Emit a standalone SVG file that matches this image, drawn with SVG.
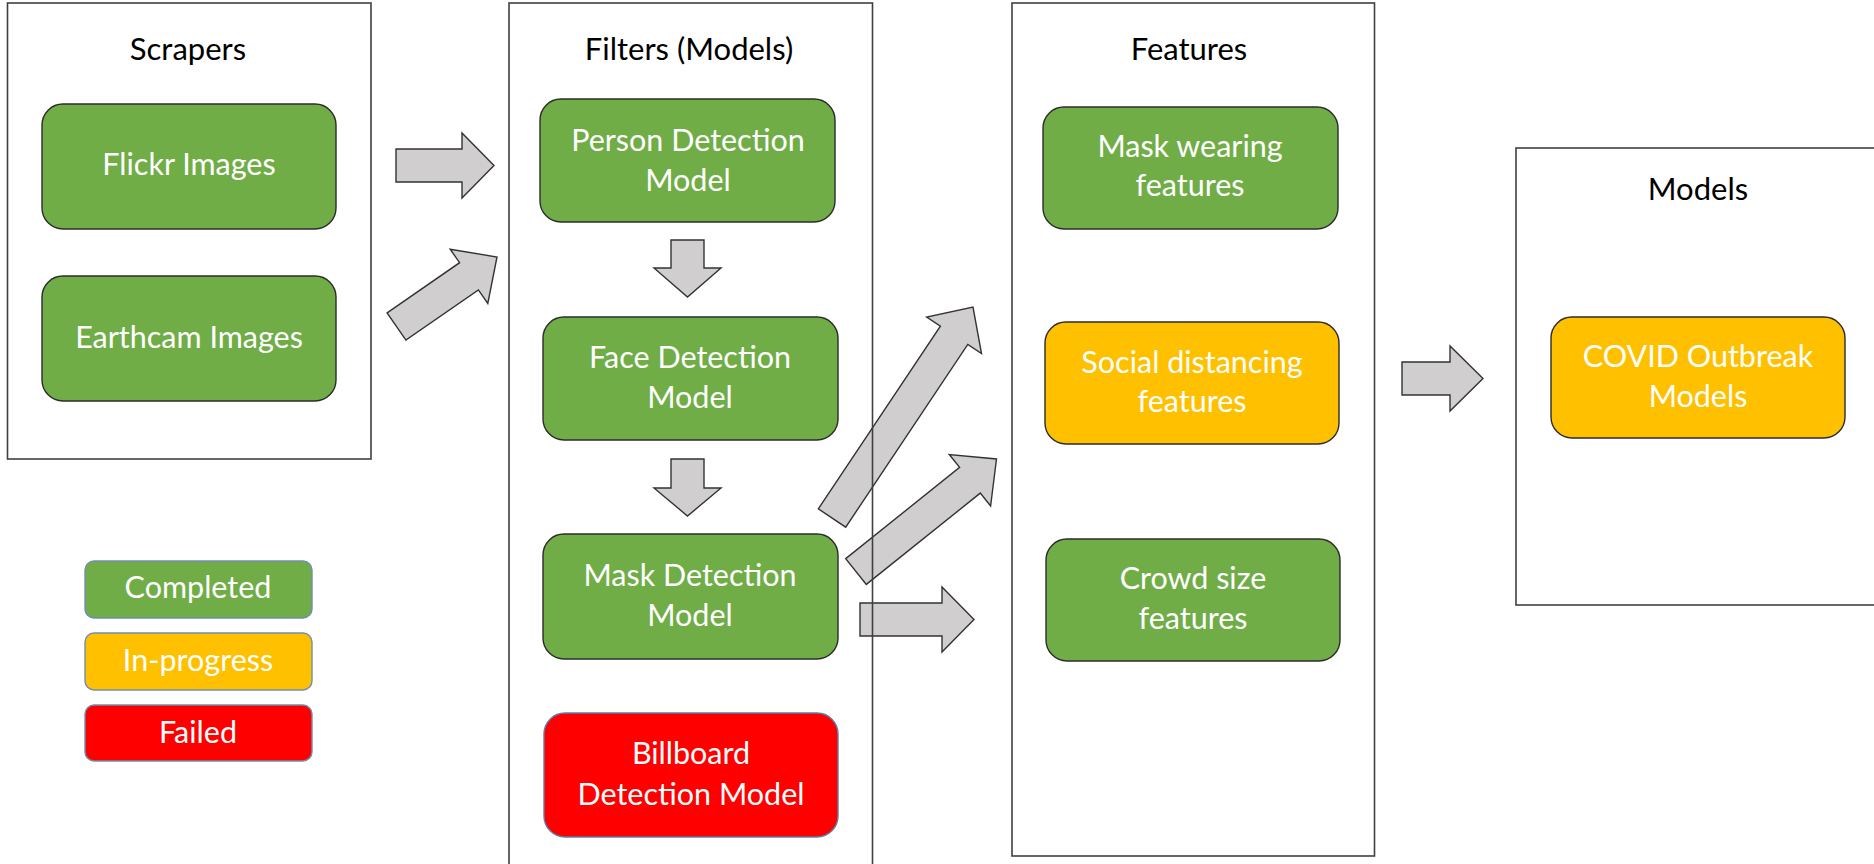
<svg xmlns="http://www.w3.org/2000/svg" width="1874" height="864" viewBox="0 0 1874 864">
  <style>
    .panel { fill: none; stroke: #404040; stroke-width: 1.6; }
    .node { stroke: #2b2b2b; stroke-width: 1.4; }
    .done { fill: #70AD47; }
    .wip { fill: #FFC000; }
    .fail { fill: #FF0000; stroke: #5a7fa8; }
    .key { stroke: #6f8fb0; stroke-width: 1.4; }
    .title { font-family: Lato, "Liberation Sans", sans-serif; font-size: 31px; fill: #000; text-anchor: middle; }
    .label { font-family: Lato, "Liberation Sans", sans-serif; font-size: 30.5px; fill: #fff; text-anchor: middle; }
    .arrow { fill: #D0CECE; stroke: #333; stroke-width: 1.4; stroke-linejoin: miter; }
  </style>

  <rect x="0" y="0" width="1874" height="864" fill="#fff"/>

  <!-- block arrows between stages -->
  <g id="connectors">
    <polygon class="arrow" points="396,149 462,149 462,133 494,165.5 462,198 462,182 396,182"/>
    <polygon class="arrow" points="387.1,312.9 459.6,262.7 450.2,249.2 497,257 487.8,303.4 478.4,289.9 405.9,340.1"/>
    <polygon class="arrow" points="671,240 704,240 704,268 721,268 687.5,297 654,268 671,268"/>
    <polygon class="arrow" points="671,459 704,459 704,488 721,488 687.5,516 654,488 671,488"/>
    <polygon class="arrow" points="818.3,508.8 940.4,326.1 926.7,317 973,307 981.5,353.6 967.8,344.4 845.7,527.2"/>
    <polygon class="arrow" points="845.7,558.6 959.6,467.4 949.3,454.5 996.5,459 990.6,506 980.3,493.1 866.3,584.4"/>
    <polygon class="arrow" points="860,603 942,603 942,587 974,619.5 942,652 942,636 860,636"/>
    <polygon class="arrow" points="1402,362 1450,362 1450,346 1483,378.5 1450,411 1450,395 1402,395"/>
  </g>

  <!-- stage panels -->
  <g id="scrapers">
    <rect class="panel" x="7.5" y="3" width="363.5" height="456"/>
    <text class="title" x="188" y="60">Scrapers</text>
  </g>
  <g id="filters">
    <rect class="panel" x="509" y="3" width="363.5" height="880"/>
    <text class="title" x="689" y="60">Filters (Models)</text>
  </g>
  <g id="features">
    <rect class="panel" x="1012" y="3" width="362.5" height="853"/>
    <text class="title" x="1189" y="60">Features</text>
  </g>
  <g id="models">
    <rect class="panel" x="1516" y="148" width="380" height="457"/>
    <text class="title" x="1698" y="200">Models</text>
  </g>

  <!-- scrapers -->
  <g id="flickr-images">
    <rect class="node done" x="42" y="104" width="294" height="125" rx="21"/>
    <text class="label" x="189" y="175">Flickr Images</text>
  </g>
  <g id="earthcam-images">
    <rect class="node done" x="42" y="276" width="294" height="125" rx="21"/>
    <text class="label" x="189" y="348">Earthcam Images</text>
  </g>

  <!-- filters -->
  <g id="person-detection">
    <rect class="node done" x="540" y="99" width="295" height="123" rx="21"/>
    <text class="label" x="688" y="151">Person Detection</text>
    <text class="label" x="688" y="191">Model</text>
  </g>
  <g id="face-detection">
    <rect class="node done" x="543" y="317" width="295" height="123" rx="21"/>
    <text class="label" x="690" y="368">Face Detection</text>
    <text class="label" x="690" y="408">Model</text>
  </g>
  <g id="mask-detection">
    <rect class="node done" x="543" y="534" width="295" height="125" rx="21"/>
    <text class="label" x="690" y="586">Mask Detection</text>
    <text class="label" x="690" y="626">Model</text>
  </g>
  <g id="billboard-detection">
    <rect class="node fail" x="544" y="713" width="294" height="124" rx="21"/>
    <text class="label" x="691" y="764">Billboard</text>
    <text class="label" x="691" y="805">Detection Model</text>
  </g>

  <!-- features -->
  <g id="mask-wearing">
    <rect class="node done" x="1043" y="107" width="295" height="122" rx="21"/>
    <text class="label" x="1190" y="157">Mask wearing</text>
    <text class="label" x="1190" y="196">features</text>
  </g>
  <g id="social-distancing">
    <rect class="node wip" x="1045" y="322" width="294" height="122" rx="21"/>
    <text class="label" x="1192" y="373">Social distancing</text>
    <text class="label" x="1192" y="412">features</text>
  </g>
  <g id="crowd-size">
    <rect class="node done" x="1046" y="539" width="294" height="122" rx="21"/>
    <text class="label" x="1193" y="589">Crowd size</text>
    <text class="label" x="1193" y="629">features</text>
  </g>

  <!-- models -->
  <g id="covid-outbreak">
    <rect class="node wip" x="1551" y="317" width="294" height="121" rx="21"/>
    <text class="label" x="1698" y="367">COVID Outbreak</text>
    <text class="label" x="1698" y="407">Models</text>
  </g>

  <!-- status key -->
  <g id="legend-completed">
    <rect class="key done" x="85" y="561" width="227" height="57" rx="9"/>
    <text class="label" x="198" y="598">Completed</text>
  </g>
  <g id="legend-in-progress">
    <rect class="key wip" x="85" y="633" width="227" height="57" rx="9"/>
    <text class="label" x="198" y="671">In-progress</text>
  </g>
  <g id="legend-failed">
    <rect class="key fail" x="85" y="705" width="227" height="56" rx="9"/>
    <text class="label" x="198" y="743">Failed</text>
  </g>
</svg>
